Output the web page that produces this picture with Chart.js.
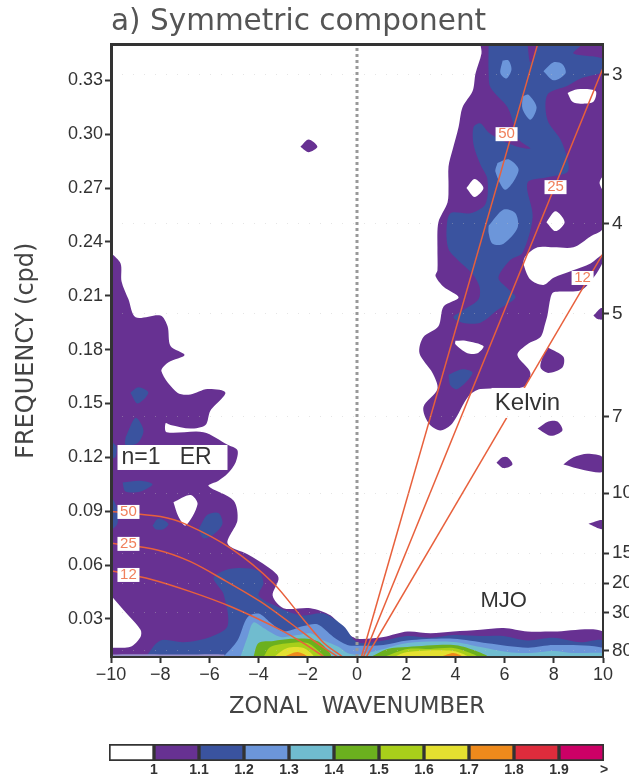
<!DOCTYPE html>
<html>
<head>
<meta charset="utf-8">
<script src="https://cdn.jsdelivr.net/npm/chart.js@4/dist/chart.umd.js"></script>
<style>
  html, body { margin: 0; padding: 0; background: #fff; }
  #wrap { position: relative; width: 629px; height: 778px; overflow: hidden; }
  #main { position: absolute; left: 0; top: 0; }
  #bar { position: absolute; left: 0; top: 730px; }
</style>
</head>
<body>
<div id="wrap">
  <canvas id="main" width="629" height="730"></canvas>
  <canvas id="bar" width="629" height="48"></canvas>
</div>
<script>
const freqTicks = [0.03, 0.06, 0.09, 0.12, 0.15, 0.18, 0.21, 0.24, 0.27, 0.30, 0.33];
const periods = [3, 4, 5, 7, 10, 15, 20, 30, 80];
const wavenumberTicks = [-10, -8, -6, -4, -2, 0, 2, 4, 6, 8, 10];
const FMIN = 0.0088, FMAX = 0.35;

const levelColors = ["#ffffff", "#673192", "#3a539f", "#6c96da", "#70bccf", "#6bb01e", "#a8cf1a", "#e4e030", "#ee8a1c", "#de2c3c", "#cc0066"];
const levelLabels = ["1", "1.1", "1.2", "1.3", "1.4", "1.5", "1.6", "1.7", "1.8", "1.9", ">"];

// contours, [wavenumber, cpd]
const purpleRight = [[5.02,.35],[5.06,.345],[4.82,.334],[4.70,.324],[4.29,.315],[4.13,.304],[3.88,.291],[3.72,.282],[3.72,.271],[3.68,.262],[3.31,.251],[3.27,.237],[3.27,.224],[3.19,.221],[3.52,.215],[4.13,.209],[3.52,.204],[3.31,.193],[2.70,.187],[2.54,.178],[3.07,.167],[3.27,.158],[2.70,.148],[2.91,.139],[3.39,.135],[3.88,.139],[4.53,.154],[5.02,.158],[6.73,.159],[7.05,.167],[6.52,.177],[6.93,.183],[7.46,.187],[7.66,.195],[7.74,.199],[7.87,.209],[7.99,.212],[9.09,.213],[9.61,.220],[10,.229],[10,.233],[9.49,.228],[8.76,.224],[7.99,.220],[7.58,.216],[7.05,.219],[6.77,.228],[6.85,.232],[7.34,.237],[7.99,.237],[8.80,.237],[9.49,.243],[10,.248],[10,.35]];
const purpleLeft = [[-10,.234],[-9.61,.228],[-9.57,.218],[-9.29,.208],[-9.00,.198],[-7.99,.199],[-7.70,.193],[-7.58,.182],[-7.01,.177],[-7.66,.173],[-7.95,.168],[-7.30,.156],[-6.77,.155],[-6.08,.158],[-5.35,.156],[-5.96,.146],[-6.16,.138],[-6.77,.136],[-7.58,.138],[-7.78,.139],[-7.74,.134],[-6.24,.134],[-5.26,.127],[-4.86,.124],[-4.94,.117],[-5.26,.111],[-5.63,.107],[-6.04,.104],[-5.02,.096],[-4.86,.085],[-5.26,.072],[-4.45,.066],[-3.64,.059],[-3.19,.053],[-3.43,.043],[-2.99,.036],[-1.89,.036],[-1.08,.032],[-.39,.022],[.02,.019],[1.08,.020],[2.05,.023],[2.99,.022],[3.92,.023],[5.02,.024],[5.96,.025],[6.93,.023],[7.99,.023],[10,.023],[10,FMIN],[-10,FMIN]];
const purpleIslands = [
  [[-2.30,.293],[-1.97,.297],[-1.61,.293],[-1.97,.290]],
  [[7.78,.181],[8.39,.176],[8.35,.170],[7.78,.167],[7.46,.170],[7.58,.177]],
  [[9.61,.199],[9.90,.203],[10,.203],[10,.197],[9.78,.197]],
  [[7.34,.136],[7.78,.140],[8.15,.140],[8.35,.135],[7.87,.132]],
  [[5.67,.117],[5.91,.120],[6.12,.120],[6.32,.116],[5.96,.114]],
  [[8.39,.116],[8.80,.120],[9.37,.122],[10,.120],[10,.112],[9.21,.113]],
  [[9.41,.083],[9.98,.085],[9.98,.080]]
];
const whiteHoles = [
  [[8.56,.323],[8.96,.325],[9.70,.324],[9.61,.318],[9.09,.317],[8.76,.318]],
  [[4.45,.270],[4.78,.275],[5.14,.270],[4.78,.265]],
  [[7.70,.251],[8.07,.257],[8.44,.251],[8.07,.246]],
  [[10,.277],[9.86,.273],[10,.269]],
  [[4.00,.185],[4.41,.185],[5.14,.182],[4.90,.178],[4.49,.178],[4.00,.183]],
  [[-10,.043],[-9.49,.035],[-8.80,.024],[-8.80,.020],[-9.21,.0145],[-9.90,.014],[-10,.014]],
  [[-7.46,.095],[-6.77,.099],[-6.48,.094],[-6.97,.082],[-7.26,.087]]
];
const blueRight = [[5.35,.35],[5.35,.334],[5.43,.326],[6.12,.315],[6.36,.306],[6.57,.297],[7.05,.292],[6.52,.293],[5.96,.296],[5.35,.301],[5.02,.306],[4.74,.304],[4.74,.294],[5.02,.283],[5.30,.275],[5.22,.261],[4.61,.256],[3.80,.256],[3.64,.247],[3.72,.236],[4.09,.230],[4.70,.222],[4.98,.215],[4.94,.208],[4.33,.202],[3.92,.198],[4.29,.195],[5.02,.195],[5.71,.202],[6.44,.209],[6.12,.214],[5.75,.220],[6.24,.230],[6.73,.234],[7.14,.254],[6.93,.273],[7.74,.276],[8.56,.279],[8.56,.286],[8.27,.297],[7.74,.308],[7.74,.322],[8.56,.327],[9.09,.331],[10,.335],[10,.342],[8.80,.345],[9.09,.35]];
const purpleSliver = [[6.93,.35],[7.05,.340],[7.34,.35]];
const blueBand = [[-8.60,FMIN],[-7.99,.018],[-7.05,.017],[-5.96,.020],[-5.26,.026],[-5.43,.044],[-5.83,.053],[-5.14,.058],[-4.04,.057],[-3.80,.050],[-4.00,.043],[-3.43,.038],[-2.30,.032],[-1.36,.033],[-.55,.026],[.02,.017],[1.08,.018],[2.05,.0205],[2.99,.0195],[3.92,.021],[5.02,.0205],[5.96,.0205],[6.93,.018],[7.99,.0195],[9.09,.017],[10,.018],[10,FMIN]];
const paleStrip = [[-10,FMIN],[-10,.0102],[-7,.0102],[-5.4,.0102],[-5.4,FMIN]];
const blueIslands = [
  [[3.72,.166],[4.29,.169],[4.70,.167],[4.09,.158],[3.80,.160]],
  [[-8.31,.082],[-8.07,.086],[-7.66,.083],[-7.87,.080],[-8.19,.080]],
  [[-6.44,.080],[-6.08,.088],[-5.63,.089],[-5.47,.083],[-5.83,.077],[-6.24,.075]],
  [[-10,.099],[-9.74,.091],[-9.74,.083],[-10,.080]],
  [[-9.53,.106],[-8.80,.107],[-8.31,.105],[-8.80,.101],[-9.41,.101]],
  [[-9.21,.156],[-8.88,.159],[-8.48,.156],[-8.92,.150]],
  [[-9.41,.131],[-9.00,.142],[-8.68,.135],[-8.92,.128],[-9.41,.127]],
  [[-10,.129],[-9.78,.126],[-9.82,.120],[-10,.120]]
];
const lightBlueIslands = [
  [[5.92,.341],[6.16,.341],[6.28,.336],[6.08,.331],[5.83,.334]],
  [[7.58,.335],[7.99,.340],[8.35,.339],[8.48,.334],[7.99,.330]],
  [[6.73,.321],[6.97,.322],[7.30,.315],[7.05,.308],[6.73,.314]],
  [[5.71,.284],[6.16,.286],[6.57,.280],[6.04,.269],[5.63,.279]],
  [[5.35,.249],[5.96,.258],[6.44,.256],[6.53,.248],[5.96,.239],[5.51,.239],[5.35,.245]]
];
const lightBlueBand = [[-5.43,FMIN],[-4.86,.018],[-4.45,.031],[-4.00,.033],[-3.52,.028],[-2.99,.023],[-2.17,.026],[-1.61,.027],[-.96,.020],[-.39,.0155],[.02,.015],[1.08,.0155],[2.05,.018],[3.92,.019],[5.30,.0165],[6.93,.014],[7.99,.0155],[10,.014],[10,FMIN]];
const tealBand = [[-4.74,FMIN],[-4.45,.020],[-4.21,.028],[-3.80,.025],[-3.11,.020],[-2.42,.021],[-1.89,.022],[-1.36,.018],[-.75,.0145],[-.39,.011],[.02,.010],[.55,.0115],[1.08,.0133],[2.05,.0166],[3.92,.0172],[5.02,.0144],[6.12,.0116],[6.93,.011],[7.99,.0122],[8.80,.011],[10,.011],[10,FMIN]];
const greenBlobs = [
  [[-4.21,FMIN],[-4.00,.0166],[-3.39,.0177],[-2.70,.0189],[-2.01,.0189],[-1.48,.0166],[-1.08,FMIN]],
  [[.55,FMIN],[1.24,.0133],[2.05,.0144],[3.92,.0155],[4.74,.0127],[5.30,FMIN]]
];
const limeBlobs = [
  [[-3.80,FMIN],[-3.52,.0144],[-2.70,.0166],[-2.01,.0166],[-1.61,.0127],[-1.36,FMIN]],
  [[1.08,FMIN],[2.05,.0133],[2.99,.0133],[3.92,.0138],[4.61,.011],[4.90,FMIN]]
];
const yellowBlobs = [
  [[-3.39,FMIN],[-2.83,.0138],[-2.17,.0138],[-1.77,FMIN]],
  [[1.48,FMIN],[2.05,.0116],[3.92,.0122],[4.49,FMIN]]
];
const orangeBlobs = [
  [[-2.99,FMIN],[-2.42,.0116],[-2.01,FMIN]],
  [[3.39,FMIN],[3.92,.011],[4.29,FMIN]]
];

// equivalent depth curves
const kelvin50 = [[.18,FMIN],[7.34,.35]];
const kelvin25 = [[.26,FMIN],[10,.3368]];
const kelvin12 = [[.38,FMIN],[10,.2335]];
const er50 = [[-10,.0898],[-7.99,.087],[-6.90,.0824],[-5.14,.0694],[-3.40,.0499],[-2.16,.0294],[-1.35,.0166],[-.60,.0090]];
const er25 = [[-10,.0722],[-8.12,.0684],[-6.77,.0619],[-5.41,.0517],[-3.92,.0396],[-2.70,.0276],[-1.62,.0165],[-.80,.0090]];
const er12 = [[-10,.0569],[-8.39,.0521],[-6.77,.0452],[-5.14,.0369],[-3.11,.0239],[-2.18,.0165],[-1.35,.0090]];
const zeroLine = [[0,FMIN],[0,FMAX]];

const depthLabels = ["50", "25", "12", "50", "25", "12"];
const depthLabelX = [6.08, 8.07, 9.17, -9.29, -9.29, -9.29];
const depthLabelY = [.300, .2705, .2199, .0896, .0718, .0545];

function fillSet(points, color) {
  const pts = points.concat([points[0]]).map(p => ({x: p[0], y: p[1]}));
  return {
    data: pts,
    showLine: true,
    fill: "shape",
    backgroundColor: color,
    borderWidth: 0,
    pointRadius: 0,
    tension: 0.3
  };
}

function lineSet(points, color, width, dash) {
  return {
    data: points.map(p => ({x: p[0], y: p[1]})),
    showLine: true,
    fill: false,
    borderColor: color,
    borderWidth: width,
    borderDash: dash || [],
    pointRadius: 0,
    tension: points.length > 2 ? 0.3 : 0
  };
}

const [, purple, blue, lightBlue, teal, green, lime, yellow, orange] = levelColors;
let layers = [];
layers.push(fillSet(purpleRight, purple), fillSet(purpleLeft, purple));
purpleIslands.forEach(p => layers.push(fillSet(p, purple)));
whiteHoles.forEach(p => layers.push(fillSet(p, "#ffffff")));
layers.push(fillSet(blueRight, blue), fillSet(purpleSliver, purple), fillSet(blueBand, blue));
layers.push(fillSet(paleStrip, "#9c94cc"));
blueIslands.forEach(p => layers.push(fillSet(p, blue)));
lightBlueIslands.forEach(p => layers.push(fillSet(p, lightBlue)));
layers.push(fillSet(lightBlueBand, lightBlue), fillSet(tealBand, teal));
greenBlobs.forEach(p => layers.push(fillSet(p, green)));
limeBlobs.forEach(p => layers.push(fillSet(p, lime)));
yellowBlobs.forEach(p => layers.push(fillSet(p, yellow)));
orangeBlobs.forEach(p => layers.push(fillSet(p, orange)));
[kelvin50, kelvin25, kelvin12, er50, er25, er12].forEach(p => layers.push(lineSet(p, "#e8603c", 1.5)));
layers.push(lineSet(zeroLine, "#999999", 3, [3, 3]));
// chart.js paints the first dataset on top
layers.forEach((d, i) => { d.order = layers.length - i; });

const labelPlugin = {
  id: "labels",
  afterDatasetsDraw(chart) {
    const ctx = chart.ctx, xs = chart.scales.x, ys = chart.scales.y;
    ctx.save();
    ctx.textBaseline = "middle";
    ctx.textAlign = "center";
    ctx.font = "15px 'Liberation Sans'";
    depthLabels.forEach((t, i) => {
      const px = xs.getPixelForValue(depthLabelX[i]), py = ys.getPixelForValue(depthLabelY[i]);
      ctx.fillStyle = "#fff";
      ctx.fillRect(px - 11, py - 7, 22, 14);
      ctx.fillStyle = "#f0805c";
      ctx.fillText(t, px, py);
    });
    ctx.font = "24px 'Liberation Sans'";
    let px = xs.getPixelForValue(6.93), py = ys.getPixelForValue(.1503);
    ctx.fillStyle = "#fff";
    ctx.fillRect(px - 36, py - 15, 72, 30);
    ctx.fillStyle = "#333";
    ctx.fillText("Kelvin", px, py);
    ctx.font = "22px 'Liberation Sans'";
    ctx.fillText("MJO", xs.getPixelForValue(5.96), ys.getPixelForValue(.040));
    px = xs.getPixelForValue(-7.5); py = ys.getPixelForValue(.1202);
    ctx.fillStyle = "#fff";
    ctx.fillRect(px - 55, py - 12, 110, 25);
    ctx.fillStyle = "#333";
    ctx.textAlign = "left";
    ctx.font = "23px 'Liberation Sans'";
    ctx.fillText("n=1   ER", px - 51, py + 1);
    ctx.restore();
  }
};

const tickFont = {family: "'Liberation Sans'", size: 18};
const axisColor = "#333";

new Chart(document.getElementById("main"), {
  type: "scatter",
  data: {datasets: layers},
  plugins: [labelPlugin],
  options: {
    responsive: false,
    animation: false,
    layout: {padding: {left: 0, right: 0, top: 0, bottom: 7}},
    plugins: {
      legend: {display: false},
      tooltip: {enabled: false},
      title: {
        display: true,
        text: "a) Symmetric component",
        align: "start",
        fullSize: false,
        color: "#555",
        font: {family: "'DejaVu Sans'", size: 29.5, weight: "normal", lineHeight: 1.2},
        padding: {top: 5, bottom: 4}
      }
    },
    scales: {
      x: {
        type: "linear", min: -10, max: 10,
        afterFit: s => { s.height = 66; },
        afterBuildTicks: s => { s.ticks = wavenumberTicks.map(v => ({value: v})); },
        grid: {drawOnChartArea: false, tickLength: 6, tickColor: axisColor, tickWidth: 2},
        border: {color: axisColor, width: 2, z: 2},
        ticks: {color: axisColor, font: tickFont, padding: 1, maxRotation: 0, autoSkip: false,
          callback: v => String(v).replace("-", "\u2212")},
        title: {display: true, text: "ZONAL  WAVENUMBER", color: "#444",
          font: {family: "'DejaVu Sans'", size: 22.6}, padding: {top: 0, bottom: 2}}
      },
      xTop: {
        type: "linear", position: "top", min: -10, max: 10,
        afterFit: s => { s.height = 0; },
        grid: {drawOnChartArea: false, drawTicks: false},
        border: {color: axisColor, width: 3, z: 2},
        ticks: {display: false}
      },
      y: {
        type: "linear", min: FMIN, max: FMAX,
        afterFit: s => { s.width = 111; },
        afterBuildTicks: s => { s.ticks = freqTicks.map(v => ({value: v})); },
        grid: {drawOnChartArea: false, tickLength: 6, tickColor: axisColor, tickWidth: 2},
        border: {color: axisColor, width: 3, z: 2},
        ticks: {color: axisColor, font: tickFont, padding: 2, autoSkip: false, callback: v => v.toFixed(2)},
        title: {display: true, text: "FREQUENCY (cpd)", color: "#444",
          font: {family: "'DejaVu Sans'", size: 24}, padding: {top: 12, bottom: 0}}
      },
      yPeriod: {
        type: "linear", position: "right", min: FMIN, max: FMAX,
        afterFit: s => { s.width = 26; },
        afterBuildTicks: s => { s.ticks = periods.map(p => ({value: 1 / p})); },
        grid: {z: 1, color: "rgba(190,190,190,0.4)", tickColor: axisColor, tickWidth: 2, tickLength: 6},
        border: {color: axisColor, width: 2, z: 2, dash: [1, 10]},
        ticks: {color: axisColor, font: {family: "'Liberation Sans'", size: 19}, padding: 3, autoSkip: false,
          callback: (v, i) => String(periods[i])}
      }
    }
  }
});

// colour key, one stacked bar per contour level
new Chart(document.getElementById("bar"), {
  type: "bar",
  data: {
    labels: [""],
    datasets: levelColors.map(c => ({
      data: [1],
      backgroundColor: c,
      borderColor: axisColor,
      borderWidth: 2,
      borderSkipped: false,
      barPercentage: 1,
      categoryPercentage: 1
    }))
  },
  options: {
    responsive: false,
    animation: false,
    indexAxis: "y",
    layout: {padding: {left: 109, right: 25, top: 14, bottom: 0}},
    plugins: {legend: {display: false}, tooltip: {enabled: false}},
    scales: {
      x: {
        type: "linear", min: 0, max: 11, stacked: true,
        afterFit: s => { s.height = 17; },
        afterBuildTicks: s => { s.ticks = levelLabels.map((t, i) => ({value: i + 1})); },
        grid: {display: false, tickLength: 0},
        border: {display: false},
        ticks: {color: axisColor, font: {family: "'Liberation Sans'", size: 14, weight: "bold"}, padding: 1, maxRotation: 0, autoSkip: false,
          callback: (v, i) => levelLabels[i]}
      },
      y: {stacked: true, display: false}
    }
  }
});
</script>
</body>
</html>
